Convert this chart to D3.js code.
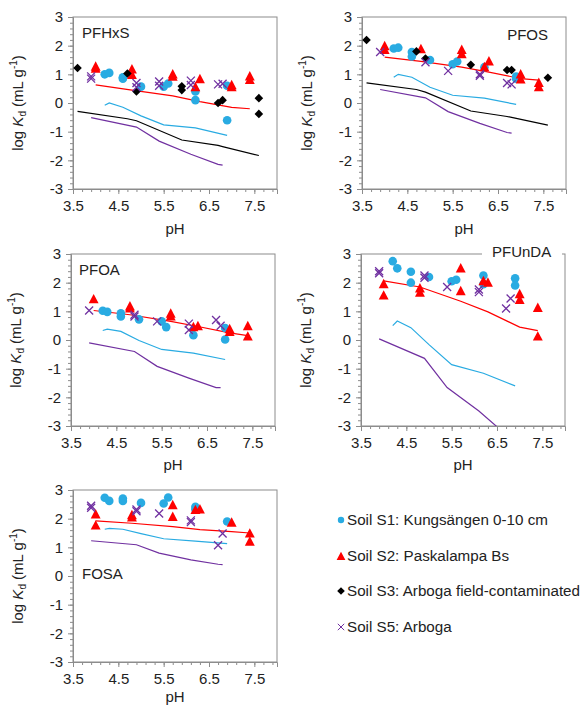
<!DOCTYPE html>
<html>
<head>
<meta charset="utf-8">
<script src="https://cdn.jsdelivr.net/npm/d3@7"></script>
<style>
  body { margin: 0; background: #fff; }
  text { font-family: "Liberation Sans", Arial, sans-serif; }
</style>
</head>
<body>
<script>
var compounds = ["PFHxS", "PFOS", "PFOA", "PFUnDA", "FOSA"];

// measured points [pH, log Kd], one list per compound (same order as compounds)
var s1Points = [
  [[4.2,1.0],[4.3,1.05],[4.6,0.9],[4.6,0.85],[5.0,0.57],[5.5,0.57],[5.6,0.68],[6.2,0.4],[6.2,0.1],[6.9,0.6],[6.9,-0.6]],
  [[4.2,1.9],[4.3,1.93],[4.6,1.78],[4.6,1.62],[5.0,1.5],[5.5,1.35],[5.6,1.45],[6.2,1.25],[6.9,0.92],[6.9,0.85]],
  [[4.2,1.02],[4.3,0.98],[4.6,0.93],[4.6,0.82],[5.0,0.72],[5.5,0.65],[5.6,0.45],[6.2,0.17],[6.9,0.42],[6.9,0.02]],
  [[4.2,2.75],[4.3,2.5],[4.6,2.38],[4.6,2.0],[5.0,2.2],[5.5,2.05],[5.6,2.1],[6.2,2.25],[6.2,1.95],[6.9,2.15],[6.9,1.9]],
  [[4.2,2.73],[4.3,2.62],[4.6,2.7],[4.6,2.62],[5.0,2.55],[5.5,2.53],[5.6,2.74],[6.2,2.41],[6.2,2.32],[6.9,1.9]]
];
var s2Points = [
  [[4.0,1.27],[4.0,1.2],[4.8,1.17],[4.8,0.98],[5.7,1.0],[5.7,0.92],[6.2,0.55],[6.3,0.83],[7.0,0.62],[7.0,0.55],[7.4,0.93],[7.4,0.8]],
  [[4.0,1.98],[4.0,1.85],[4.8,1.88],[5.7,1.85],[5.7,1.7],[6.2,1.25],[6.3,1.45],[7.0,1.0],[7.0,0.82],[7.4,0.7],[7.4,0.55]],
  [[4.0,1.42],[4.8,1.17],[4.8,1.1],[5.7,0.92],[5.7,0.82],[6.2,0.45],[6.3,0.48],[7.0,0.38],[7.0,0.28],[7.4,0.48],[7.4,0.12]],
  [[4.0,1.95],[4.0,1.55],[4.8,1.8],[4.8,1.65],[5.7,2.5],[5.7,1.7],[6.2,2.05],[6.3,2.0],[7.0,1.6],[7.0,1.4],[7.4,1.12],[7.4,0.12]],
  [[4.0,2.15],[4.0,1.76],[4.8,2.12],[4.8,2.04],[5.7,2.47],[5.7,2.06],[6.2,2.3],[6.3,2.32],[7.0,1.86],[7.4,1.48],[7.4,1.2]]
];
var s3Points = [
  [[3.6,1.22],[4.7,1.03],[4.9,0.4],[5.9,0.58],[5.9,0.45],[6.7,0.0],[6.8,0.1],[7.6,0.17],[7.6,-0.38]],
  [[3.6,2.2],[4.7,1.8],[4.9,1.55],[5.9,1.33],[6.7,1.15],[6.8,1.15],[7.6,0.88]],
  [], [], []
];
var s5Points = [
  [[3.9,0.93],[3.9,0.85],[4.9,0.7],[4.9,0.55],[5.4,0.75],[5.4,0.6],[6.1,0.78],[6.1,0.63],[6.7,0.65],[6.8,0.67]],
  [[3.9,1.78],[4.9,1.42],[5.4,1.12],[6.1,1.0],[6.1,0.95],[6.7,0.7],[6.8,0.65]],
  [[3.9,1.03],[4.9,0.88],[4.9,0.82],[5.4,0.65],[6.1,0.57],[6.1,0.35],[6.7,0.7],[6.8,0.5]],
  [[3.9,2.4],[3.9,2.33],[4.9,2.25],[4.9,2.17],[5.4,1.85],[6.1,1.76],[6.1,1.67],[6.7,1.1],[6.8,1.45]],
  [[3.9,2.45],[3.9,2.38],[4.9,2.32],[4.9,2.26],[5.4,2.18],[6.1,1.94],[6.1,1.88],[6.7,1.07],[6.8,1.48]]
];

// model lines: pH grid per soil, values per compound
var s1ModelPH = [4.2, 4.3, 4.6, 5.0, 5.5, 6.2, 6.9];
var s1Model = [
  [-0.08, 0.0, -0.15, -0.45, -0.76, -0.87, -1.13],
  [0.9, 1.0, 0.9, 0.55, 0.27, 0.17, -0.05],
  [0.33, 0.38, 0.3, -0.02, -0.33, -0.46, -0.68],
  [0.5, 0.66, 0.43, -0.16, -0.86, -1.16, -1.6],
  [1.63, 1.66, 1.63, 1.48, 1.3, 1.22, 1.13]
];
var s2ModelPH = [4.0, 4.8, 5.7, 6.3, 7.0, 7.4];
var s2Model = [
  [0.63, 0.45, 0.25, 0.05, -0.15, -0.2],
  [1.6, 1.45, 1.25, 1.08, 0.85, 0.8],
  [1.03, 0.88, 0.65, 0.47, 0.25, 0.15],
  [2.06, 1.85, 1.35, 0.98, 0.45, 0.33],
  [1.92, 1.84, 1.72, 1.62, 1.55, 1.5]
];
var s3ModelPH = [3.6, 4.7, 4.9, 5.9, 6.7, 6.8, 7.6];
var s3Model = [
  [-0.29, -0.55, -0.62, -1.29, -1.48, -1.52, -1.83],
  [0.7, 0.47, 0.38, -0.28, -0.47, -0.5, -0.77],
  null, null, null
];
var s5ModelPH = [3.9, 4.9, 5.4, 6.1, 6.7, 6.8];
var s5Model = [
  [-0.51, -0.84, -1.33, -1.79, -2.14, -2.17],
  [0.47, 0.18, -0.3, -0.71, -1.03, -1.05],
  [-0.1, -0.4, -0.92, -1.33, -1.66, -1.66],
  [0.04, -0.64, -1.66, -2.48, -3.3, -3.45],
  [1.23, 1.09, 0.8, 0.56, 0.41, 0.4]
];

var xTicks = [3.5, 4.5, 5.5, 6.5, 7.5];
var yTicks = [-3, -2, -1, 0, 1, 2, 3];
var legendLabels = ["Soil S1: Kungsängen 0-10 cm", "Soil S2: Paskalampa Bs",
                    "Soil S3: Arboga field-contaminated", "Soil S5: Arboga"];

var cyan = "#29abe2", red = "#ff0000", purple = "#7030a0", axisGray = "#8c8c8c";

var W = 204, H = 172;
var panelPos = [[73, 17], [362, 17], [71, 254], [361, 254], [73, 490]];
var labelPos = [[9, 21, "start"], [186, 23, "end"], [8, 21, "start"], [131, 3, "start"], [9, 89, "start"]];
var phLabelGap = [45, 45, 44, 44, 40];

var svg = d3.select("body").append("svg")
    .attr("width", 587).attr("height", 708);

var x = d3.scaleLinear().domain([3.5, 8]).range([0, W]),
    y = d3.scaleLinear().domain([-3, 3]).range([H, 0]);

var minorX = d3.range(0, 23).map(function(i) { return 3.5 + i * 0.2; });
var minorY = d3.range(0, 31).map(function(i) { return -3 + i * 0.2; });

var line = d3.line().x(function(d) { return x(d[0]); }).y(function(d) { return y(d[1]); });

function tri(cx, cy, s) {
  return "M" + cx + "," + (cy - s * 0.6) + "L" + (cx + s * 0.55) + "," + (cy + s * 0.45) +
         "L" + (cx - s * 0.55) + "," + (cy + s * 0.45) + "Z";
}
function diamond(cx, cy, s) {
  return "M" + cx + "," + (cy - s) + "L" + (cx + s) + "," + cy + "L" + cx + "," + (cy + s) +
         "L" + (cx - s) + "," + cy + "Z";
}
function cross(cx, cy, s) {
  return "M" + (cx - s) + "," + (cy - s) + "L" + (cx + s) + "," + (cy + s) +
         "M" + (cx - s) + "," + (cy + s) + "L" + (cx + s) + "," + (cy - s);
}

function styleAxis(a) {
  a.select(".domain").attr("stroke", axisGray);
  a.selectAll("line").attr("stroke", axisGray);
  a.selectAll("text").attr("font-size", 15).attr("fill", "#222")
    .style("font-family", "Liberation Sans, Arial, sans-serif");
}

compounds.forEach(function(name, i) {
  var g = svg.append("g")
      .attr("transform", "translate(" + panelPos[i][0] + "," + panelPos[i][1] + ")");

  g.append("clipPath").attr("id", "clip" + i)
    .append("rect").attr("width", W).attr("height", H);

  g.append("rect").attr("width", W).attr("height", H)
      .attr("fill", "none").attr("stroke", axisGray).attr("stroke-width", 1);

  // minor ticks
  g.append("g").attr("transform", "translate(0," + H + ")")
      .call(d3.axisBottom(x).tickValues(minorX).tickSize(3).tickFormat(""))
      .call(function(a) { a.select(".domain").remove(); a.selectAll("line").attr("stroke", axisGray); });
  g.append("g")
      .call(d3.axisLeft(y).tickValues(minorY).tickSize(3).tickFormat(""))
      .call(function(a) { a.select(".domain").remove(); a.selectAll("line").attr("stroke", axisGray); });

  // major ticks
  g.append("g").attr("transform", "translate(0," + H + ")")
      .call(d3.axisBottom(x).tickValues(xTicks).tickSize(5).tickPadding(6).tickFormat(d3.format(".1f")))
      .call(styleAxis);
  g.append("g")
      .call(d3.axisLeft(y).tickValues(yTicks).tickSize(5).tickPadding(5)
        .tickFormat(function(d) { return String(d); }))
      .call(styleAxis);

  g.append("text").attr("x", W / 2).attr("y", H + phLabelGap[i])
      .attr("text-anchor", "middle").attr("font-size", 15).attr("fill", "#222").text("pH");

  var yl = g.append("text")
      .attr("transform", "translate(-50," + (H / 2) + ") rotate(-90)")
      .attr("text-anchor", "middle").attr("font-size", 15).attr("fill", "#222");
  yl.append("tspan").text("log ");
  yl.append("tspan").attr("font-style", "italic").text("K");
  yl.append("tspan").attr("font-size", 10).attr("dy", 3).text("d");
  yl.append("tspan").attr("dy", -3).text(" (mL g");
  yl.append("tspan").attr("font-size", 10).attr("dy", -6).text("-1");
  yl.append("tspan").attr("dy", 6).text(")");

  // model lines
  var lines = g.append("g").attr("clip-path", "url(#clip" + i + ")")
      .attr("fill", "none").attr("stroke-width", 1.2);
  [[s3ModelPH, s3Model, "#000"], [s1ModelPH, s1Model, cyan],
   [s5ModelPH, s5Model, purple], [s2ModelPH, s2Model, red]].forEach(function(m) {
    if (!m[1][i]) return;
    var pts = m[0].map(function(p, j) { return [p, m[1][i][j]]; });
    lines.append("path").attr("d", line(pts)).attr("stroke", m[2]);
  });

  // points
  g.selectAll(".s1").data(s1Points[i]).enter().append("circle")
      .attr("cx", function(d) { return x(d[0]); }).attr("cy", function(d) { return y(d[1]); })
      .attr("r", 4.3).attr("fill", cyan);
  g.selectAll(".s2").data(s2Points[i]).enter().append("path")
      .attr("d", function(d) { return tri(x(d[0]), y(d[1]), 9); }).attr("fill", red);
  g.selectAll(".s3").data(s3Points[i]).enter().append("path")
      .attr("d", function(d) { return diamond(x(d[0]), y(d[1]), 4.3); }).attr("fill", "#000");
  g.selectAll(".s5").data(s5Points[i]).enter().append("path")
      .attr("d", function(d) { return cross(x(d[0]), y(d[1]), 4); })
      .attr("stroke", purple).attr("stroke-width", 1.3).attr("fill", "none");

  // compound label
  var lp = labelPos[i];
  var lab = g.append("text").attr("x", lp[0]).attr("y", lp[1])
      .attr("text-anchor", lp[2]).attr("font-size", 15).attr("fill", "#222").text(name);
  if (name === "PFUnDA") {
    var bb = lab.node().getBBox();
    g.insert("rect", function() { return lab.node(); })
        .attr("x", bb.x - 10).attr("y", bb.y)
        .attr("width", W - bb.x + 10 - 3).attr("height", bb.height).attr("fill", "#fff");
  }
});

// legend
var legY = [520, 556, 591, 627];
var leg = svg.append("g");
legendLabels.forEach(function(t, i) {
  var cx = 341, cy = legY[i];
  if (i === 0) leg.append("circle").attr("cx", cx).attr("cy", cy).attr("r", 3.2).attr("fill", cyan);
  if (i === 1) leg.append("path").attr("d", tri(cx, cy + 0.5, 8)).attr("fill", red);
  if (i === 2) leg.append("path").attr("d", diamond(cx, cy, 3.8)).attr("fill", "#000");
  if (i === 3) leg.append("path").attr("d", cross(cx, cy, 3.2)).attr("stroke", purple)
      .attr("stroke-width", 1).attr("fill", "none");
  leg.append("text").attr("x", 347).attr("y", cy + 5).attr("font-size", 15.2)
      .attr("fill", "#222").text(t);
});
</script>
</body>
</html>
